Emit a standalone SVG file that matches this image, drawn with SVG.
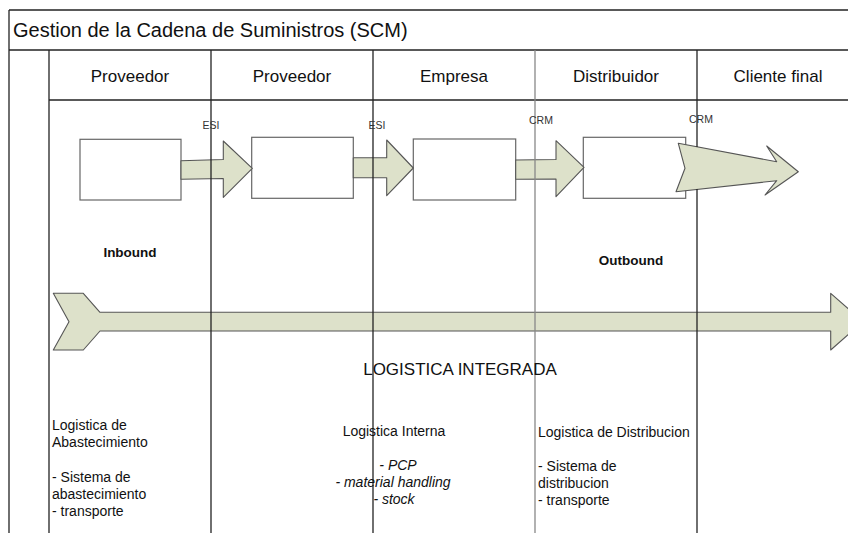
<svg xmlns="http://www.w3.org/2000/svg" width="848" height="533" viewBox="0 0 848 533">
  <style>
    text { font-family: "Liberation Sans", Arial, sans-serif; fill: #111; }
    .title { font-size: 20px; }
    .head { font-size: 17px; text-anchor: middle; }
    .tag { font-size: 10.5px; text-anchor: middle; fill: #333; }
    .bold { font-size: 13.5px; font-weight: bold; text-anchor: middle; }
    .big { font-size: 17px; text-anchor: middle; }
    .body { font-size: 14px; }
    .mid { text-anchor: middle; }
    .it { font-style: italic; }
    .rule { stroke: #222; stroke-width: 1.3; fill: none; }
    .rule-light { stroke: #888; stroke-width: 1.3; fill: none; }
    .box { fill: #fff; stroke: #666; stroke-width: 1.2; }
    .flow { fill: #dde1ca; stroke: #555; stroke-width: 1.1; stroke-linejoin: round; }
  </style>

  <rect width="848" height="533" fill="#fff"/>

  <!-- stage boxes -->
  <g id="stage-1"><rect class="box" x="80" y="139.3" width="101" height="60.7"/></g>
  <g id="stage-2"><rect class="box" x="251.7" y="137.3" width="101.6" height="61"/></g>
  <g id="stage-3"><rect class="box" x="413.3" y="139" width="102.4" height="61"/></g>
  <g id="stage-4"><rect class="box" x="583.3" y="137.3" width="102.4" height="61"/></g>

  <!-- flow arrows (drawn over the boxes, under the swimlane rules) -->
  <g id="connectors">
    <path id="arrow-esi-1" class="flow" d="M181,160.7 L223.3,159.5 L223.3,141 L252.3,168.3 L223.3,197.3 L223.3,178.5 L181,179.3 Z"/>
    <path id="arrow-esi-2" class="flow" d="M353.3,157.7 L386.7,157.7 L386.7,140 L413.3,168 L386.7,195.7 L386.7,177.7 L353.3,177.7 Z"/>
    <path id="arrow-crm-1" class="flow" d="M515.7,160 L556,159.5 L556,140.7 L584,167.3 L556,196.7 L556,179 L515.7,179.3 Z"/>
    <path id="arrow-crm-2" class="flow" d="M678.3,143.3 L776.7,161.7 L766.7,146 L798.3,171.7 L765,195 L776.7,180.7 L676,191.7 L685,168.3 Z"/>
    <path id="arrow-integrada" class="flow" d="M53.3,293.3 L83.3,293.3 L100,312.3 L830.7,312.3 L830.7,293.3 L863,321.7 L830.7,350 L830.7,331 L100,331 L83.3,350 L53.3,350 L69,321.7 Z"/>
  </g>

  <!-- frame and swimlane rules -->
  <g id="frame">
    <line class="rule" x1="9" y1="10" x2="848" y2="10"/>
    <line class="rule" x1="9" y1="50" x2="848" y2="50" stroke-width="2"/>
    <line class="rule" x1="49" y1="100" x2="848" y2="100"/>
    <line class="rule" x1="9" y1="10" x2="9" y2="533"/>
    <line class="rule" x1="49" y1="50" x2="49" y2="533"/>
    <line class="rule" x1="211" y1="50" x2="211" y2="533"/>
    <line class="rule" x1="373" y1="50" x2="373" y2="533"/>
    <line class="rule-light" x1="535" y1="50" x2="535" y2="533"/>
    <line class="rule" x1="697" y1="50" x2="697" y2="147"/>
    <line class="rule" x1="697" y1="189" x2="697" y2="533"/>
  </g>

  <text class="title" x="13" y="37">Gestion de la Cadena de Suministros (SCM)</text>

  <!-- column headers -->
  <g id="col-proveedor-1"><text class="head" x="130" y="82">Proveedor</text></g>
  <g id="col-proveedor-2"><text class="head" x="292" y="82">Proveedor</text></g>
  <g id="col-empresa"><text class="head" x="454" y="82">Empresa</text></g>
  <g id="col-distribuidor"><text class="head" x="616" y="82">Distribuidor</text></g>
  <g id="col-cliente"><text class="head" x="778" y="82">Cliente final</text></g>

  <!-- interface tags -->
  <text class="tag" x="211" y="129">ESI</text>
  <text class="tag" x="377" y="129">ESI</text>
  <text class="tag" x="541" y="124">CRM</text>
  <text class="tag" x="701" y="123">CRM</text>

  <text class="bold" x="130" y="257">Inbound</text>
  <text class="bold" x="631" y="265">Outbound</text>

  <text class="big" x="460" y="375">LOGISTICA INTEGRADA</text>

  <!-- logistics areas -->
  <g id="area-abastecimiento">
    <text class="body" x="52" y="430">Logistica de</text>
    <text class="body" x="52" y="447">Abastecimiento</text>
    <text class="body" x="52" y="482">- Sistema de</text>
    <text class="body" x="52" y="499">abastecimiento</text>
    <text class="body" x="52" y="516">- transporte</text>
  </g>
  <g id="area-interna">
    <text class="body mid" x="394" y="436">Logistica Interna</text>
    <text class="body mid it" x="398" y="470">- PCP</text>
    <text class="body mid it" x="393" y="487">- material handling</text>
    <text class="body mid it" x="394" y="504">- stock</text>
  </g>
  <g id="area-distribucion">
    <text class="body" x="538" y="437">Logistica de Distribucion</text>
    <text class="body" x="538" y="471">- Sistema de</text>
    <text class="body" x="538" y="488">distribucion</text>
    <text class="body" x="538" y="505">- transporte</text>
  </g>
</svg>
